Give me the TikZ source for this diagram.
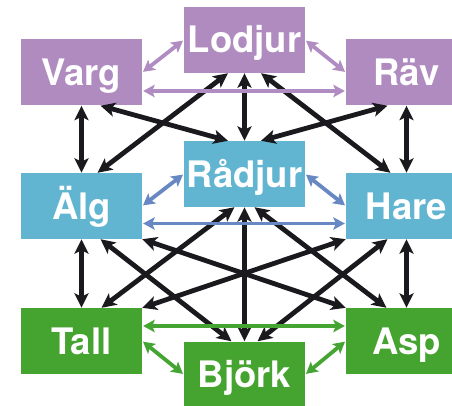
\documentclass[tikz,border=0pt]{standalone}
\usepackage{fontspec}
\setmainfont{TeX Gyre Heros}
\usetikzlibrary{arrows.meta}
\definecolor{purpbox}{HTML}{AF8BBF}
\definecolor{purpline}{HTML}{B08CC2}
\definecolor{bluebox}{HTML}{62B5D1}
\definecolor{blueline}{HTML}{6888C4}
\definecolor{greenbox}{HTML}{45A32F}
\definecolor{greenline}{HTML}{45A532}
\definecolor{ink}{HTML}{1A1A1E}
\begin{document}
\begin{tikzpicture}[x=1pt,y=-1pt,
  box/.style={rectangle, minimum width=121pt, minimum height=66pt, inner sep=0pt,
    text=white, font=\fontsize{36.5}{36.5}\selectfont\bfseries, text height=26pt, text depth=0pt},
  pbox/.style={box, fill=purpbox},
  bbox/.style={box, fill=bluebox},
  gbox/.style={box, fill=greenbox},
  blk/.style={draw=ink, line width=4.8pt, >={Stealth[length=14.5pt,width=14pt,inset=3.5pt]}, <->},
  coll/.style={line width=3.8pt, >={Stealth[length=11.5pt,width=12.5pt,inset=2.5pt]}, <->,
    shorten <=1pt, shorten >=1pt},
  pl/.style={coll, draw=purpline},
  bl/.style={coll, draw=blueline},
  gl/.style={coll, draw=greenline}
]
\useasboundingbox (0,0) rectangle (452,406);
% boxes
\node[pbox] (lodjur) at (244.5,40) {Lodjur};
\node[pbox] (varg) at (81.5,72.5) {Varg};
\node[pbox] (rav) at (406.5,72.5) {Räv};
\node[bbox] (radjur) at (244.5,174) {Rådjur};
\node[bbox] (alg) at (81.5,206) {Älg};
\node[bbox] (hare) at (406.5,206) {Hare};
\node[gbox] (tall) at (81.5,341) {Tall};
\node[gbox] (asp) at (406.5,341) {Asp};
\node[gbox] (bjork) at (244.5,374.5) {Björk};
% black links top -> middle
\draw[blk] (varg.south) -- (alg.north);
\draw[blk] (rav.south) -- (hare.north);
\draw[blk] (lodjur.south) -- (radjur.north);
\draw[blk] ([xshift=19pt]varg.south) -- ([xshift=-16.5pt]radjur.north);
\draw[blk] ([xshift=-19pt]rav.south) -- ([xshift=16.5pt]radjur.north);
\draw[blk] ([xshift=-16.5pt]lodjur.south) -- ([xshift=16pt]alg.north);
\draw[blk] ([xshift=16.5pt]lodjur.south) -- ([xshift=-16pt]hare.north);
% black links middle -> bottom
\draw[blk] (alg.south) -- (tall.north);
\draw[blk] (hare.south) -- (asp.north);
\draw[blk] (radjur.south) -- (bjork.north);
\draw[blk] ([xshift=-10pt]radjur.south) -- ([xshift=20pt]tall.north);
\draw[blk] ([xshift=10pt]radjur.south) -- ([xshift=-20pt]asp.north);
\draw[blk] ([xshift=19pt]alg.south) -- ([xshift=-13pt]bjork.north);
\draw[blk] ([xshift=-19pt]hare.south) -- ([xshift=13pt]bjork.north);
\draw[blk] (alg.south east) -- (asp.north west);
\draw[blk] (hare.south west) -- (tall.north east);
% coloured links
\draw[pl] (varg.east) -- (lodjur.west);
\draw[pl] (lodjur.east) -- (rav.west);
\draw[pl] ([yshift=-18.5pt]varg.east) -- ([yshift=-18.5pt]rav.west);
\draw[bl] (alg.east) -- (radjur.west);
\draw[bl] (radjur.east) -- (hare.west);
\draw[bl] ([yshift=-17.5pt]alg.east) -- ([yshift=-17.5pt]hare.west);
\draw[gl] (tall.east) -- (bjork.west);
\draw[gl] (bjork.east) -- (asp.west);
\draw[gl] ([yshift=15pt]tall.east) -- ([yshift=15pt]asp.west);
\end{tikzpicture}
\end{document}
